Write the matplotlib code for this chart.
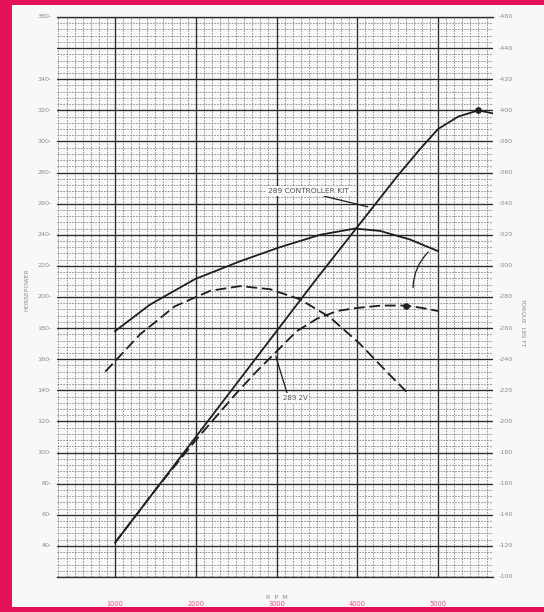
import matplotlib
matplotlib.use("Agg")
import matplotlib.pyplot as plt
from matplotlib.patches import Rectangle
import numpy as np

# Engine speed (rpm) and readings for the 289 with the controller kit vs. stock 289 2V
hp_kit_rpm = [1000, 1500, 2000, 2500, 3000, 3500, 4000, 4500, 4775, 5000, 5250, 5500, 5680]
hp_kit = [42, 76, 110, 144, 178, 212, 245, 278, 295, 308, 316, 320, 318]

hp_stock_rpm = [1000, 1500, 2000, 2500, 2750, 3000, 3250, 3500, 3750, 4000, 4300, 4600, 4800, 5000]
hp_stock = [42, 76, 108, 138, 152, 165, 178, 186, 191, 193, 194.5, 194.5, 193, 191]

tq_kit_rpm = [1000, 1430, 1990, 2550, 3040, 3540, 3970, 4280, 4650, 5000]
tq_kit = [258, 275, 291.5, 303, 312, 320, 324, 322.5, 317, 309.5]

tq_stock_rpm = [880, 1310, 1740, 2180, 2550, 2920, 3290, 3660, 4030, 4400, 4650]
tq_stock = [232, 256, 274, 284, 287, 285, 278.5, 267, 250, 230, 217]

peak_points_rpm = [5500, 4600]
peak_points_hp = [320, 194.5]

rpm_ticks = [1000, 2000, 3000, 4000, 5000]
rpm_labels = ["1000", "2000", "3000", "4000", "5000"]
hp_ticks = [40, 60, 80, 100, 120, 140, 160, 180, 200, 220, 240, 260, 280, 300, 320, 340, 380]
tq_ticks = list(range(100, 461, 20))

crimson = "#e2115a"
ink = "#1e1e1e"
faint = "#8a8a8a"

fig = plt.figure(figsize=(5.44, 6.12), dpi=100, facecolor=crimson)
# paper sheet
paper = Rectangle((12 / 544, 5 / 612), 1 - 12 / 544, 602 / 612,
                  transform=fig.transFigure, facecolor="#f8f8f6",
                  edgecolor="none", zorder=-5)
fig.add_artist(paper)

ax = fig.add_axes([57 / 544, 35 / 612, 436 / 544, 560 / 612])
ax.set_zorder(1)
ax.set_facecolor("none")
ax.set_xlim(282, 5680)
ax.set_ylim(20, 380)

# graph-paper grid
ax.set_xticks(rpm_ticks)
ax.set_xticks(np.arange(300, 5700, 100), minor=True)
ax.set_yticks(np.arange(20, 381, 20))
ax.set_yticks(np.arange(20, 381, 4), minor=True)
ax.grid(which="minor", color="#5e5e5e", lw=0.55, ls=(0, (2.2, 1.6)), alpha=0.8)
ax.grid(which="major", color="#2a2a2a", lw=0.95)
ax.set_axisbelow(True)
for s in ("left", "right"):
    ax.spines[s].set_visible(False)
for s in ("top", "bottom"):
    ax.spines[s].set_color("#2a2a2a")
    ax.spines[s].set_linewidth(0.95)

ax.tick_params(which="both", length=0)
ax.set_xticklabels([])
ax.set_yticklabels([])

# left horsepower labels
for v in hp_ticks:
    ax.text(-0.012, v, f"{v}-", transform=ax.get_yaxis_transform(), ha="right",
            va="center", fontsize=4.6, color=faint)

ax2 = ax.twinx()
ax2.set_ylim(100, 460)
ax2.set_yticks([])
for s in ax2.spines.values():
    s.set_visible(False)
for v in tq_ticks:
    ax2.text(1.012, v, f"-{v}", transform=ax2.get_yaxis_transform(), ha="left",
             va="center", fontsize=4.6, color=faint)

# rpm scale
for v, lab in zip(rpm_ticks, rpm_labels):
    ax.text(v, -0.048, lab, transform=ax.get_xaxis_transform(), ha="center",
            va="center", fontsize=4.8, color="#e0557f")
ax.text(3000, -0.036, "R  P  M", transform=ax.get_xaxis_transform(), ha="center",
        va="center", fontsize=4.6, color=faint)

fig.text(27 / 544, 1 - 290 / 612, "HORSEPOWER", rotation=90, ha="center",
         va="center", fontsize=4.2, color=faint)
fig.text(523 / 544, 1 - 322 / 612, "TORQUE  LBS FT", rotation=270, ha="center",
         va="center", fontsize=4.2, color=faint)

dash = (0, (6, 2.6))
ax.plot(hp_kit_rpm, hp_kit, color=ink, lw=1.3, solid_capstyle="round", zorder=5)
ax.plot(hp_stock_rpm, hp_stock, color=ink, lw=1.3, ls=dash, zorder=5)
ax2.plot(tq_kit_rpm, tq_kit, color=ink, lw=1.3, zorder=5)
ax2.plot(tq_stock_rpm, tq_stock, color=ink, lw=1.3, ls=dash, zorder=5)
ax.scatter(peak_points_rpm, peak_points_hp, s=14, color=ink, zorder=6)

box = dict(boxstyle="square,pad=0.25", facecolor="#f8f8f6", edgecolor="none")
ax2.annotate("289 CONTROLLER KIT", xy=(4130, 338), xytext=(3390, 348),
             fontsize=5.4, color="#555555", ha="center", va="center", bbox=box,
             arrowprops=dict(arrowstyle="-", color=ink, lw=0.9,
                             shrinkA=0, shrinkB=0, relpos=(0.6, 0.0)), zorder=7)
ax2.annotate("289 2V", xy=(2990, 242), xytext=(3230, 215),
             fontsize=5.0, color="#555555", ha="center", va="center", bbox=box,
             arrowprops=dict(arrowstyle="-", color=ink, lw=0.9,
                             shrinkA=0, shrinkB=0, relpos=(0.2, 1.0)), zorder=7)
# leader from the stock curve up to the kit torque curve
ax2.annotate("", xy=(4880, 309), xytext=(4690, 286),
             arrowprops=dict(arrowstyle="-", color=ink, lw=0.9, shrinkA=0,
                             shrinkB=0, connectionstyle="arc3,rad=-0.2"), zorder=7)

fig.savefig("out.png", dpi=100, facecolor=crimson)
